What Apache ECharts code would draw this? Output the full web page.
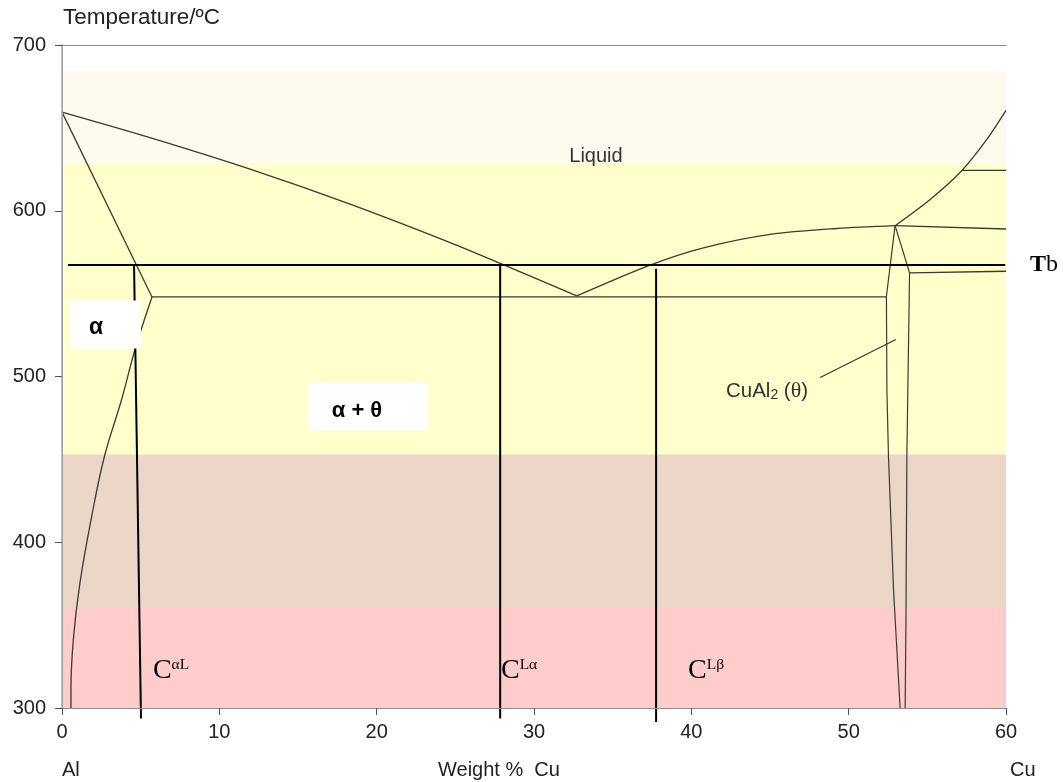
<!DOCTYPE html>
<html>
<head>
<meta charset="utf-8">
<title>Al–Cu phase diagram</title>
<script src="https://cdn.jsdelivr.net/npm/echarts@6/dist/echarts.min.js"></script>
<style>
  html, body { margin: 0; padding: 0; background: #ffffff; }
  #chart { width: 1063px; height: 782px; }
</style>
</head>
<body>
<div id="chart"></div>
<script>
// ---- axis ranges -------------------------------------------------------
const xMin = 0, xMax = 60, xStep = 10;       // weight % Cu
const yMin = 300, yMax = 700, yStep = 100;   // temperature, °C

// ---- shaded temperature bands (°C) -------------------------------------
const bandTop    = [684, 629, 453, 361];
const bandBottom = [629, 453, 361, 300];
const bandColor  = ['#fefaf0', '#ffffcc', '#ecd6c8', '#ffcccc'];

// ---- phase boundaries: [wt% Cu, °C] ------------------------------------
const liquidusAl    = [[0, 659.5], [5.59, 644.1], [11.95, 625.1], [18.31, 604.0], [24.67, 580.8], [28.04, 567.5], [32.72, 548.6]];
const solidusAl     = [[0, 659.5], [5.72, 548]];
const solvusAl      = [[5.72, 548], [4.64, 516.3], [3.79, 486.1], [2.70, 451.9], [1.89, 415.7], [1.14, 375.5], [0.72, 341.3], [0.57, 311], [0.57, 300]];
const eutecticLine  = [[5.72, 548], [52.38, 548]];
const liquidusTheta = [[32.72, 548.6], [37.38, 567.2], [40.77, 577.6], [45.01, 585.7], [49.25, 589.3], [52.95, 591]];
const thetaLeft     = [[52.95, 591], [52.4, 548.4], [52.43, 492], [52.53, 452], [52.85, 371.5], [53.27, 300]];
const thetaRight    = [[52.95, 591], [53.87, 562.5], [53.7, 452], [53.64, 351.4], [53.59, 300]];
const peritecticHi  = [[52.95, 591], [60, 589]];
const eutecticRight = [[53.87, 562.5], [60, 563.5]];
const liquidusCu    = [[52.95, 591], [55.18, 606.8], [57.2, 624.3], [58.78, 643], [60, 660.5]];
const upperTie      = [[57.2, 624.3], [60, 624.3]];
const thetaPointer  = [[48.19, 499.4], [53.0, 522.3]];

// ---- construction lines at Tb ------------------------------------------
const tbLine  = [[0.38, 567.3], [59.95, 567.3]];
const cAlphaL = [[4.58, 567.3], [5.02, 293.6]];
const cLAlpha = [[27.85, 567.3], [27.85, 293.6]];
const cLBeta  = [[37.76, 565], [37.76, 291.5]];

// ---- white label boxes: [x0, x1, T0, T1] -------------------------------
const boxAlpha      = [0.45, 5.02, 516.9, 545.9];
const boxAlphaTheta = [15.64, 23.27, 467.4, 496.4];

// ---- texts and their anchors [wt% Cu, °C] -----------------------------
const textStrings = [
  'Temperature/ºC', 'Al', 'Weight %  Cu', 'Cu', 'Liquid', 'α', 'α + θ',
  '{t|CuAl}{u|2}{t| (}{g|θ}{t|)}', '{b|T}{n|b}',
  '{c|C}{s|αL}', '{c|C}{s|Lα}', '{c|C}{s|Lβ}'
];
const textAnchors = [
  [0.06, 716.3], [0.0, 262.5], [23.9, 262.5], [60.25, 262.5], [33.94, 632.7],
  [2.16, 529.6], [18.75, 479.0], [42.2, 491.0], [61.53, 567.3],
  [5.78, 322.5], [27.9, 322.5], [39.79, 322.5]
];

const PHASE = '#3b3b2e';
const INK = '#000000';
const SANS = '"Liberation Sans", Arial, sans-serif';
const SERIF = '"Liberation Serif", "Times New Roman", serif';

// per-text style (same order as textStrings)
const supRich = {
  c: { fontFamily: SERIF, fontSize: 28, fill: INK },
  s: { fontFamily: SERIF, fontSize: 15.5, fill: INK, verticalAlign: 'top' }
};
const textStyles = [
  { fontSize: 22.5, fill: '#222' },
  { fontSize: 20, fill: '#222' },
  { fontSize: 20, fill: '#222' },
  { fontSize: 20, fill: '#222' },
  { fontSize: 20, fill: '#333', align: 'center' },
  { fontSize: 23, fontWeight: 'bold', fill: INK, align: 'center' },
  { fontSize: 22, fontWeight: 'bold', fill: INK, align: 'center' },
  { rich: {
      t: { fontFamily: SANS, fontSize: 20.5, fill: '#333' },
      g: { fontFamily: SERIF, fontSize: 22, fill: '#333' },
      u: { fontFamily: SANS, fontSize: 14, fill: '#333', verticalAlign: 'bottom' }
  } },
  { rich: {
      b: { fontFamily: SERIF, fontSize: 24, fontWeight: 'bold', fill: INK },
      n: { fontFamily: SERIF, fontSize: 24, fill: INK }
  } },
  { rich: supRich }, { rich: supRich }, { rich: supRich }
];

function lineSeries(points, color, width, smooth) {
  return {
    type: 'line', data: points, showSymbol: false, symbol: 'none',
    smooth: smooth || false,
    clip: false, silent: true, z: 3, animation: false,
    lineStyle: { color: color, width: width }
  };
}

function rectSeries(rows, colorOf, z) {
  return {
    type: 'custom', z: z, silent: true, animation: false, clip: false,
    data: rows,
    encode: { x: [0, 1], y: [2, 3] },
    renderItem: function (params, api) {
      const a = api.coord([api.value(0), api.value(3)]);
      const b = api.coord([api.value(1), api.value(2)]);
      return {
        type: 'rect',
        shape: { x: a[0], y: a[1], width: b[0] - a[0], height: b[1] - a[1] },
        style: { fill: colorOf(params.dataIndex) }
      };
    }
  };
}

const textSeries = {
  type: 'custom', z: 8, silent: true, animation: false, clip: false,
  data: textAnchors,
  encode: { x: 0, y: 1 },
  renderItem: function (params, api) {
    const i = params.dataIndex;
    const p = api.coord([api.value(0), api.value(1)]);
    const style = Object.assign({
      text: textStrings[i],
      fontFamily: SANS,
      align: 'left',
      verticalAlign: 'middle'
    }, textStyles[i]);
    return { type: 'text', x: p[0], y: p[1], style: style };
  }
};

const axisGray = '#8c8c8c';

const option = {
  animation: false,
  backgroundColor: '#ffffff',
  grid: { left: 62, right: 57, top: 45, bottom: 74, containLabel: false },
  xAxis: [
    {
      type: 'value', min: xMin, max: xMax, interval: xStep, z: 10,
      splitLine: { show: false },
      axisLine: { show: true, lineStyle: { color: axisGray, width: 1 } },
      axisTick: { show: true, length: 7, lineStyle: { color: '#555' } },
      axisLabel: { fontFamily: SANS, fontSize: 20, color: '#222', margin: 14 }
    },
    {
      type: 'value', position: 'top', min: xMin, max: xMax, z: 10,
      splitLine: { show: false },
      axisLine: { show: true, lineStyle: { color: axisGray, width: 1 } },
      axisTick: { show: false }, axisLabel: { show: false }
    }
  ],
  yAxis: [
    {
      type: 'value', min: yMin, max: yMax, interval: yStep, z: 10,
      splitLine: { show: false },
      axisLine: { show: true, lineStyle: { color: axisGray, width: 1 } },
      axisTick: { show: true, length: 7, lineStyle: { color: '#555' } },
      axisLabel: { fontFamily: SANS, fontSize: 20, color: '#222', margin: 16 }
    },
    {
      type: 'value', position: 'right', min: yMin, max: yMax, z: 10,
      splitLine: { show: false },
      axisLine: { show: true, lineStyle: { color: '#a8a8a8', width: 1.5 } },
      axisTick: { show: false }, axisLabel: { show: false }
    }
  ],
  series: [
    rectSeries(bandTop.map(function (t, i) { return [xMin, xMax, bandBottom[i], t]; }),
      function (i) { return bandColor[i]; }, 1),

    lineSeries(liquidusAl, PHASE, 1.3, 0.3),
    lineSeries(solidusAl, PHASE, 1.3),
    lineSeries(solvusAl, PHASE, 1.3, 0.4),
    lineSeries(eutecticLine, PHASE, 1.3),
    lineSeries(liquidusTheta, PHASE, 1.3, 0.3),
    lineSeries(thetaLeft, PHASE, 1.2),
    lineSeries(thetaRight, PHASE, 1.2),
    lineSeries(peritecticHi, PHASE, 1.3),
    lineSeries(eutecticRight, PHASE, 1.3),
    lineSeries(liquidusCu, PHASE, 1.3, 0.3),
    lineSeries(upperTie, PHASE, 1.3),
    lineSeries(thetaPointer, PHASE, 1.3),

    lineSeries(tbLine, INK, 2),
    lineSeries(cAlphaL, INK, 2),
    lineSeries(cLAlpha, INK, 2),
    lineSeries(cLBeta, INK, 2),

    rectSeries([boxAlpha, boxAlphaTheta], function () { return '#ffffff'; }, 6),

    textSeries
  ]
};

const chart = echarts.init(document.getElementById('chart'), null, { renderer: 'canvas' });
chart.setOption(option);
</script>
</body>
</html>
